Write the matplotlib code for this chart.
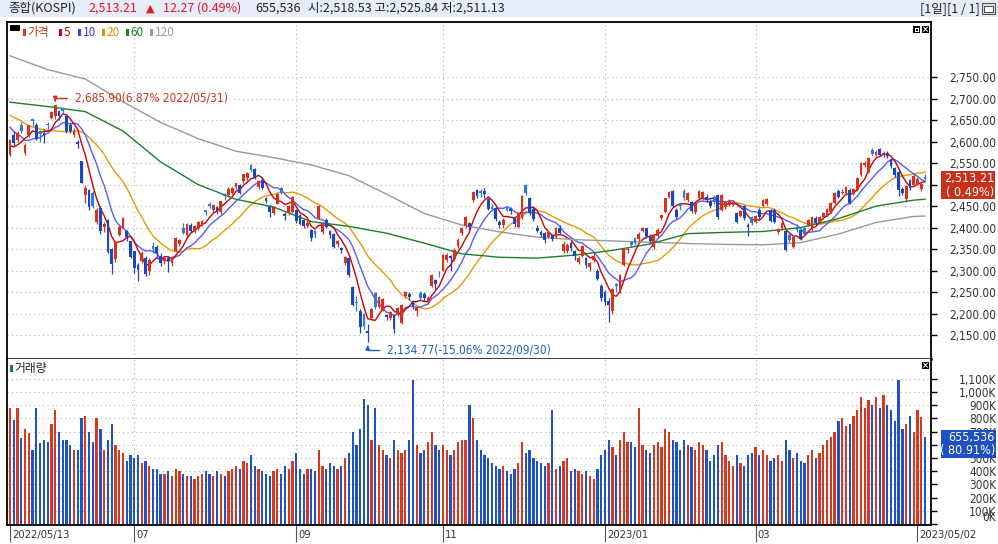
import numpy as np
import pandas as pd
import matplotlib
matplotlib.use('Agg')
import matplotlib.pyplot as plt
from matplotlib.patches import Rectangle

plt.rcParams['font.family'] = ['Noto Sans CJK KR', 'DejaVu Sans']
NARROW = dict(family='DejaVu Sans', fontstretch='condensed')

# ─── Data ──────────────────────────────────────────────────────────
holidays = ['2022-06-01', '2022-06-06', '2022-08-15', '2022-09-09', '2022-09-12',
            '2022-10-03', '2022-10-10', '2022-12-30', '2023-01-23', '2023-01-24',
            '2023-03-01', '2023-05-01']
dates = pd.bdate_range('2022-05-13', '2023-05-02', freq='C', holidays=holidays)

# closes of the 20 sessions before the window (for the 5/10/20 averages)
pre_close = [2716.49, 2696.06, 2693.21, 2718.69, 2718.89, 2728.21, 2704.71, 2657.13,
             2668.31, 2639.06, 2667.49, 2695.05, 2687.45, 2680.46, 2677.57, 2644.51,
             2610.81, 2596.56, 2592.27, 2550.08]

open_ = [2570, 2615, 2603, 2640, 2573, 2616, 2652, 2640, 2624, 2620, 2641, 2655, 2660,
         2672, 2678, 2660, 2640, 2615, 2600, 2555, 2475, 2487, 2480, 2412, 2445, 2402, 2418, 2350, 2327, 2383, 2400, 2392, 2368,
         2345, 2313, 2323, 2330, 2300, 2358, 2355, 2335, 2322, 2330, 2318, 2346, 2362, 2400, 2382, 2405, 2392, 2398, 2408, 2440, 2455,
         2440, 2447, 2437, 2478, 2475, 2480, 2495, 2500, 2508, 2515, 2545, 2537, 2495, 2512, 2468, 2450, 2435, 2456, 2493, 2432, 2433, 2437,
         2441, 2430, 2418, 2404, 2394, 2392, 2422, 2390, 2418, 2391, 2385, 2363, 2352, 2318, 2330, 2261, 2227, 2205, 2199, 2159,
         2189, 2247, 2216, 2208, 2196, 2190, 2196, 2200, 2177, 2240, 2246, 2228, 2205, 2248, 2246, 2230, 2265, 2277, 2295,
         2300, 2325, 2333, 2328, 2357, 2387, 2403, 2410, 2464, 2487, 2486, 2486, 2467, 2449, 2445, 2413, 2405, 2445, 2443, 2423, 2402, 2422,
         2500, 2470, 2443, 2400, 2390, 2387, 2378, 2383, 2378, 2398, 2345, 2345, 2365, 2345, 2320, 2335, 2330, 2308, 2325, 2300, 2265,
         2249, 2230, 2205, 2268, 2250, 2313, 2347, 2367, 2375, 2374, 2393, 2398, 2379, 2355, 2380, 2422, 2437, 2472, 2485, 2442,
         2455, 2485, 2465, 2460,
         2437, 2468, 2468, 2472, 2463, 2472, 2476, 2441, 2447, 2453, 2453, 2433, 2427, 2450, 2406, 2424,
         2414, 2441, 2450, 2455, 2441, 2441, 2390, 2398, 2391, 2383, 2356, 2402, 2394, 2398, 2406, 2396, 2423, 2414, 2425, 2429, 2437, 2458,
         2485, 2481, 2480, 2488, 2478, 2488, 2522, 2546, 2530, 2581, 2569, 2582, 2571, 2574, 2559, 2538, 2530, 2489, 2466, 2510,
         2500, 2502, 2491, 2518.53]
high = [2606, 2625, 2624, 2645, 2596, 2640, 2656, 2643, 2628, 2630, 2646, 2672, 2685.90,
        2675, 2682, 2662, 2645, 2632, 2604, 2556, 2500, 2490, 2485, 2445, 2450, 2412, 2420, 2352, 2370, 2405, 2425, 2395, 2370,
        2346, 2318, 2345, 2333, 2330, 2366, 2360, 2340, 2332, 2335, 2335, 2378, 2374, 2410, 2410, 2410, 2405, 2415, 2418, 2442, 2460,
        2455, 2450, 2463, 2480, 2495, 2495, 2505, 2502, 2525, 2530, 2548, 2540, 2510, 2515, 2472, 2452, 2450, 2480, 2495, 2436, 2452, 2474,
        2443, 2432, 2420, 2420, 2396, 2395, 2452, 2413, 2422, 2395, 2388, 2372, 2355, 2335, 2332, 2265, 2240, 2210, 2202, 2176,
        2212, 2250, 2240, 2235, 2200, 2205, 2200, 2215, 2222, 2252, 2250, 2232, 2218, 2252, 2250, 2240, 2292, 2280, 2298,
        2338, 2340, 2336, 2352, 2375, 2402, 2428, 2414, 2486, 2490, 2490, 2492, 2470, 2455, 2448, 2418, 2422, 2450, 2448, 2425, 2436, 2475,
        2501, 2472, 2448, 2405, 2395, 2390, 2392, 2386, 2401, 2405, 2368, 2365, 2370, 2348, 2335, 2360, 2332, 2320, 2340, 2303, 2268,
        2255, 2235, 2260, 2270, 2292, 2352, 2356, 2370, 2378, 2390, 2402, 2400, 2385, 2385, 2398, 2430, 2470, 2486, 2488, 2445,
        2458, 2490, 2482, 2462,
        2457, 2487, 2486, 2478, 2466, 2476, 2479, 2479, 2463, 2466, 2464, 2436, 2442, 2452, 2410, 2428,
        2430, 2446, 2467, 2468, 2444, 2445, 2400, 2413, 2394, 2388, 2382, 2405, 2397, 2401, 2420, 2426, 2427, 2427, 2437, 2446, 2460, 2482,
        2490, 2490, 2497, 2492, 2493, 2517, 2553, 2556, 2564, 2585, 2580, 2586, 2578, 2578, 2562, 2541, 2534, 2494, 2500, 2514,
        2524, 2517, 2504, 2525.84]
low = [2566, 2590, 2600, 2620, 2568, 2612, 2636, 2603, 2600, 2598, 2630, 2652, 2652,
       2650, 2665, 2620, 2620, 2610, 2585, 2504, 2458, 2440, 2446, 2408, 2385, 2390, 2340, 2291, 2320, 2380, 2398, 2370, 2330,
       2295, 2276, 2318, 2288, 2290, 2340, 2330, 2310, 2315, 2296, 2310, 2344, 2358, 2385, 2378, 2390, 2388, 2395, 2403, 2430, 2445,
       2435, 2432, 2432, 2465, 2472, 2478, 2490, 2478, 2505, 2512, 2530, 2514, 2490, 2490, 2458, 2425, 2430, 2455, 2478, 2418, 2430, 2435,
       2410, 2405, 2400, 2400, 2370, 2375, 2420, 2385, 2398, 2375, 2352, 2355, 2340, 2314, 2286, 2218, 2205, 2155, 2165, 2134.77,
       2185, 2210, 2212, 2205, 2185, 2185, 2155, 2195, 2175, 2235, 2232, 2210, 2195, 2230, 2230, 2222, 2262, 2258, 2285,
       2298, 2320, 2300, 2322, 2352, 2383, 2400, 2395, 2460, 2470, 2472, 2470, 2440, 2438, 2416, 2400, 2400, 2438, 2432, 2402, 2400, 2420,
       2475, 2430, 2415, 2390, 2378, 2365, 2375, 2368, 2375, 2385, 2340, 2340, 2345, 2325, 2315, 2332, 2305, 2300, 2320, 2278, 2230,
       2220, 2180, 2200, 2250, 2248, 2310, 2340, 2355, 2360, 2370, 2390, 2375, 2365, 2350, 2378, 2418, 2435, 2470, 2448, 2420,
       2440, 2465, 2460, 2435,
       2432, 2465, 2465, 2460, 2446, 2456, 2420, 2438, 2444, 2450, 2450, 2410, 2424, 2418, 2380, 2405,
       2410, 2420, 2447, 2452, 2412, 2410, 2386, 2395, 2345, 2366, 2352, 2390, 2372, 2382, 2404, 2393, 2407, 2410, 2421, 2426, 2435, 2456,
       2468, 2478, 2476, 2455, 2475, 2486, 2520, 2542, 2527, 2568, 2566, 2566, 2565, 2562, 2540, 2519, 2474, 2477, 2460, 2488,
       2497, 2499, 2486, 2511.13]
close = [2604.24, 2596.58, 2620.44, 2625.98, 2592.34, 2639.29, 2647.38, 2605.87, 2617.22, 2612.45, 2638.05, 2669.66, 2685.90,
         2658.99, 2670.65, 2626.15, 2625.44, 2625.98, 2595.87, 2504.51, 2492.97, 2447.38, 2451.41, 2440.93, 2391.03, 2408.93, 2342.81, 2314.32, 2366.60, 2401.92, 2422.09, 2377.99, 2332.64,
         2305.42, 2300.34, 2341.78, 2292.01, 2324.98, 2350.61, 2340.27, 2317.76, 2328.61, 2322.32, 2330.98, 2375.25, 2370.97, 2386.85, 2409.22, 2393.14, 2403.69, 2412.78, 2415.53, 2435.27, 2451.50,
         2452.25, 2439.62, 2461.45, 2473.11, 2490.80, 2493.10, 2503.46, 2480.88, 2523.78, 2527.94, 2533.52, 2516.47, 2508.05, 2492.69, 2462.50, 2435.34, 2447.45, 2477.26, 2481.03, 2426.89, 2450.93, 2472.05,
         2415.61, 2409.41, 2403.68, 2410.02, 2376.46, 2384.28, 2449.54, 2411.42, 2401.83, 2382.78, 2355.66, 2367.85, 2347.21, 2332.31, 2290.00, 2220.94, 2223.86, 2169.29, 2170.93, 2155.49,
         2209.38, 2215.22, 2237.86, 2232.84, 2192.07, 2202.47, 2162.87, 2212.55, 2219.71, 2249.95, 2237.44, 2218.09, 2213.12, 2236.16, 2235.07, 2235.91, 2288.78, 2268.40, 2293.61,
         2335.22, 2336.86, 2329.17, 2348.22, 2371.79, 2399.04, 2424.41, 2402.23, 2483.16, 2474.65, 2480.33, 2477.45, 2442.90, 2444.48, 2419.50, 2405.27, 2417.99, 2441.33, 2437.86, 2408.27, 2433.39, 2472.53,
         2479.84, 2434.33, 2419.32, 2393.16, 2382.81, 2371.08, 2389.04, 2372.40, 2399.25, 2386.93, 2361.82, 2360.14, 2352.17, 2333.34, 2328.95, 2356.73, 2313.69, 2317.14, 2332.79, 2280.45, 2236.40,
         2225.67, 2218.68, 2255.98, 2264.65, 2289.97, 2350.19, 2351.31, 2359.88, 2365.10, 2386.09, 2399.86, 2379.39, 2368.32, 2380.34, 2395.26, 2428.57, 2468.65, 2484.02, 2450.47, 2425.08,
         2449.80, 2468.88, 2480.40, 2438.19,
         2455, 2485, 2484, 2464, 2450, 2460, 2424, 2476, 2460, 2463, 2460, 2414, 2439, 2422, 2402, 2410,
         2427, 2424, 2464, 2466, 2416, 2414, 2396, 2410, 2347, 2371, 2379, 2394, 2375, 2385, 2418, 2424, 2410, 2424, 2435, 2444, 2458, 2480,
         2472, 2484, 2495, 2458, 2491, 2515, 2550, 2551, 2561, 2571, 2577, 2569, 2574.5, 2567, 2543, 2522, 2487, 2481, 2497, 2492,
         2520, 2513, 2500.94, 2513.21]
volume = [880, 790, 880, 650, 720, 690, 560, 880, 610, 640, 620, 760, 860, 700, 640, 640, 600, 560, 560, 800,
          820, 700, 620, 800, 720, 560, 640, 760, 600, 560, 540, 480, 520, 500, 520, 460, 480, 440, 420, 420,
          380, 380, 400, 360, 420, 400, 380, 360, 360, 340, 360, 380, 400, 380, 360, 400, 380, 360, 400, 420,
          440, 420, 480, 460, 520, 440, 420, 400, 380, 360, 400, 420, 380, 440, 420, 480, 540, 420, 380, 420,
          420, 400, 560, 440, 420, 460, 440, 420, 440, 500, 540, 700, 600, 720, 950, 900, 640, 880, 600, 560,
          520, 500, 640, 560, 540, 560, 640, 1090, 600, 540, 560, 620, 700, 600, 560, 600, 560, 520, 560, 620,
          640, 640, 900, 800, 640, 560, 520, 500, 460, 440, 420, 440, 400, 380, 420, 460, 620, 540, 560, 500,
          480, 460, 440, 460, 860, 420, 440, 480, 500, 400, 420, 400, 380, 400, 360, 340, 420, 520, 560, 640,
          580, 520, 640, 700, 620, 620, 580, 880, 600, 560, 540, 600, 620, 580, 720, 700, 640, 620, 560, 640,
          600, 580, 560, 620, 600, 560, 480, 520, 600, 620, 520, 480, 440, 520, 460, 440, 520, 540, 580, 520,
          560, 520, 480, 500, 520, 480, 640, 560, 500, 540, 480, 460, 520, 560, 500, 540, 600, 640, 660, 700,
          780, 800, 740, 760, 820, 860, 960, 880, 940, 900, 960, 880, 980, 900, 860, 780, 1090, 720, 760, 820,
          700, 860, 810.2, 655.536]

# 60 / 120 day averages every 10 sessions (plus the last one)
ma60_read = [2692, 2682, 2670, 2625, 2553, 2500, 2466, 2448, 2414, 2403, 2387, 2364, 2339,
             2331, 2329, 2336, 2347, 2362, 2386, 2389, 2391, 2400, 2421, 2450, 2464, 2466]
ma120_read = [2800, 2768, 2746, 2693, 2645, 2607, 2578, 2563, 2546, 2521, 2478, 2433, 2406,
              2390, 2378, 2372, 2369, 2366, 2363, 2361, 2360, 2365, 2385, 2412, 2426, 2427]

month_ticks = ['2022-05-13', '2022-07-01', '2022-09-01', '2022-11-01', '2023-01-02', '2023-03-02']
month_labels = ['2022/05/13', '07', '09', '11', '2023/01', '03', '2023/05/02']
price_ticks = list(range(2150, 2751, 50))
vol_ticks = list(range(0, 1101, 100))

# ─── Figure ────────────────────────────────────────────────────────
W, H = 998, 544
fig = plt.figure(figsize=(W / 100, H / 100), dpi=100)
fig.patch.set_facecolor('white')


def frect(x0, y0, x1, y1, z=1, **kw):
    fig.add_artist(Rectangle((x0 / W, 1 - y1 / H), (x1 - x0) / W, (y1 - y0) / H,
                             transform=fig.transFigure, zorder=z, **kw))


def ftext(x, y, s, z=12, **kw):
    fig.text(x / W, 1 - y / H, s, zorder=z, **kw)


RED, BLUE, LBLUE = '#d7321e', '#1a46be', '#2d7ad8'
VRED, VBLUE = '#d8381e', '#1f52c4'

n = len(close)
xi = np.arange(n)
o = np.array(open_, float)
c = np.array(close, float)
h = np.array(high, float)
l = np.array(low, float)
v = np.array(volume, float)
prev = np.r_[pre_close[-1], c[:-1]]
up = c >= o
cand_col = np.where(up, RED, np.where(c > prev, LBLUE, BLUE))
vol_col = np.where(up, VRED, VBLUE)
ma_x = list(range(0, n, 10)) + [n - 1]

XL = (-0.8, n + 0.6)
L, R = 7, 931
ax = fig.add_axes([L / W, 1 - 359 / H, (R - L) / W, (359 - 22) / H])
axv = fig.add_axes([L / W, 1 - 525 / H, (R - L) / W, (525 - 359) / H])
GRID = dict(color='#b4b4b4', lw=0.8, ls=(0, (1, 3)), zorder=0)

# ─── Price panel ───────────────────────────────────────────────────
ax.set_xlim(*XL)
ax.set_ylim(2094.1, 2878.8)
for p in price_ticks:
    ax.axhline(p, **GRID)
# last label sits a little inside, as the chart shifts it to fit
tick_idx = [dates.get_loc(pd.Timestamp(d)) for d in month_ticks] + [n - 3]
for t in tick_idx[1:-1]:
    ax.axvline(t, **GRID)
    axv.axvline(t, **GRID)

full = pd.Series(pre_close + close)
for win, col in [(20, '#e89a00'), (10, '#5a5aff'), (5, '#d00000')]:
    ma = full.rolling(win).mean().values[-n:]
    ax.plot(xi, ma, color=col, lw=1.0, zorder=2)
ax.plot(ma_x, ma120_read, color='#9a9a9a', lw=1.0, zorder=2)
ax.plot(ma_x, ma60_read, color='#1b7f2a', lw=1.0, zorder=2)

ax.vlines(xi, l, h, colors=cand_col, lw=0.9, zorder=3)
body = np.maximum(np.abs(c - o), 1.6)
ax.bar(xi, body, bottom=np.minimum(o, c), width=0.74, color=cand_col, lw=0, zorder=4)

ax.set_xticks([])
ax.yaxis.tick_right()
ax.set_yticks(price_ticks)
ax.set_yticklabels(['' if p == 2500 else f'{p:,.2f}' for p in price_ticks], fontsize=8.5,
                   color='#333333', ha='right', **NARROW)
ax.tick_params(axis='y', length=4, width=1, color='black', pad=43)
for s in ['left', 'top', 'right']:
    ax.spines[s].set_linewidth(1.3)
ax.spines['bottom'].set_linewidth(1.8)

# extreme annotations (percent against the last close)
ihi = int(np.argmax(h))
ilo = int(np.argmin(l))
ax.annotate('', xy=(xi[ihi], h[ihi] + 2), xytext=(xi[ihi], h[ihi] + 16),
            arrowprops=dict(arrowstyle='-|>', color='#d2341e', lw=1, mutation_scale=6))
ax.plot([xi[ihi], xi[ihi] + 3.2], [h[ihi] + 16, h[ihi] + 16], color='#d2341e', lw=1)
ax.text(xi[ihi] + 5.3, h[ihi] + 16, f'{h[ihi]:,.2f}({(h[ihi] / c[-1] - 1) * 100:.2f}% '
        f'{dates[ihi]:%Y/%m/%d})', color='#d2341e', fontsize=8.5, va='center', **NARROW)
ax.annotate('', xy=(xi[ilo], l[ilo] - 2), xytext=(xi[ilo], l[ilo] - 20),
            arrowprops=dict(arrowstyle='-|>', color='#1e62c0', lw=1, mutation_scale=6))
ax.plot([xi[ilo], xi[ilo] + 3.0], [l[ilo] - 20, l[ilo] - 20], color='#1e62c0', lw=1)
ax.text(xi[ilo] + 5.0, l[ilo] - 20, f'{l[ilo]:,.2f}({(l[ilo] / c[-1] - 1) * 100:.2f}% '
        f'{dates[ilo]:%Y/%m/%d})', color='#1e62c0', fontsize=8.5, va='center', **NARROW)

# ─── Volume panel ──────────────────────────────────────────────────
axv.set_xlim(*XL)
axv.set_ylim(-7.6, 1250)
for t in vol_ticks:
    axv.axhline(t, **GRID)
axv.bar(xi, v, width=0.6, color=vol_col, lw=0, zorder=3)
axv.yaxis.tick_right()
axv.set_yticks(vol_ticks)
vlabels = axv.set_yticklabels(['' if t == 600 else f'{t:,}K' for t in vol_ticks], fontsize=8.5,
                              color='#333333', ha='right', **NARROW)
vlabels[0].set_va('bottom')
axv.tick_params(axis='y', length=4, width=1, color='black', pad=43)
axv.set_xticks(tick_idx)
axv.set_xticklabels([])
axv.tick_params(axis='x', length=12, width=0.8, color='#555555')
for t, lab in zip(tick_idx, month_labels):
    axv.annotate(lab, xy=(t, 9), xycoords=('data', 'figure pixels'), xytext=(1.5, 0),
                 textcoords='offset points', fontsize=8, color='#333333', va='center',
                 ha='left', annotation_clip=False, **NARROW)
for s in ['left', 'right', 'bottom']:
    axv.spines[s].set_linewidth(1.3)
axv.spines['top'].set_visible(False)

# ─── Header bar ────────────────────────────────────────────────────
frect(0, 0, W, 17, color='#e7edf8', lw=0)
ftext(8, 8.5, '종합(KOSPI)', fontsize=9, va='center', color='#222222')
ftext(88, 8.5, f'{c[-1]:,.2f}', fontsize=9, va='center', color='#e8141e')
ftext(146, 8.5, '▲', fontsize=8, va='center', color='#e8141e', family=['DejaVu Sans'])
ftext(163, 8.5, f'{c[-1] - c[-2]:.2f} ({(c[-1] / c[-2] - 1) * 100:.2f}%)', fontsize=9,
      va='center', color='#e8141e')
ftext(255, 8.5, f'{int(round(v[-1] * 1000)):,}', fontsize=9, va='center', color='#222222')
ftext(308, 8.5, f'시:{o[-1]:,.2f} 고:{h[-1]:,.2f} 저:{l[-1]:,.2f}', fontsize=9,
      va='center', color='#222222')
ftext(980, 8.5, '[1일][1 / 1]', fontsize=9, va='center', ha='right', color='#222222')
frect(982, 3, 995, 14, facecolor='#e0e0e0', edgecolor='#555555', lw=0.8)
frect(984, 6, 993, 12, facecolor='white', edgecolor='#555555', lw=0.8)

# panel icons
frect(913, 26, 920, 33, z=10, facecolor='black', lw=0)
frect(914.5, 27.5, 918.5, 31.5, z=10, facecolor='white', lw=0)
frect(915.5, 28.5, 917.5, 30.5, z=10, facecolor='black', lw=0)
for yy in (26, 362):
    frect(922, yy, 929, yy + 7, z=10, facecolor='black', lw=0)
    ftext(925.5, yy + 3.7, '×', fontsize=6, color='white', ha='center', va='center',
          family=['DejaVu Sans'], fontweight='bold')

# legend rows
frect(10, 25, 20, 30.5, z=10, facecolor='black', lw=0)
legend_items = [(23, '가격', '#d03a1a'), (59, '5', '#d00000'), (78, '10', '#3a3ae0'),
                (102, '20', '#e08f00'), (126, '60', '#1b7f2a'), (150, '120', '#9a9a9a')]
for x0, lab, col in legend_items:
    frect(x0, 29, x0 + 2.6, 36, z=10, facecolor=col, lw=0)
    ftext(x0 + 4.5, 32.5, lab, fontsize=8.5, color=col, va='center')
frect(10, 365, 12.6, 372, z=10, facecolor='#1b7f2a', lw=0)
ftext(14.5, 368.5, '거래량', fontsize=8.5, color='#222222', va='center')

# last value tags
frect(941, 171, 995, 199, z=11, color='#c8321c', lw=0)
ftext(994, 178.5, f'{c[-1]:,.2f}', fontsize=9, color='white', ha='right', va='center', **NARROW)
ftext(994, 192, f'( {(c[-1] / c[-2] - 1) * 100:.2f}%)', fontsize=9, color='white',
      ha='right', va='center', **NARROW)
frect(941, 430, 996, 457.5, z=11, color='#1e4fc4', lw=0)
ftext(995, 437, f'{int(round(v[-1] * 1000)):,}', fontsize=9, color='white',
      ha='right', va='center', **NARROW)
ftext(995, 450.5, f'( {v[-1] / v[-2] * 100:.2f}%)', fontsize=9, color='white',
      ha='right', va='center', **NARROW)

fig.savefig('out.png', dpi=100)
